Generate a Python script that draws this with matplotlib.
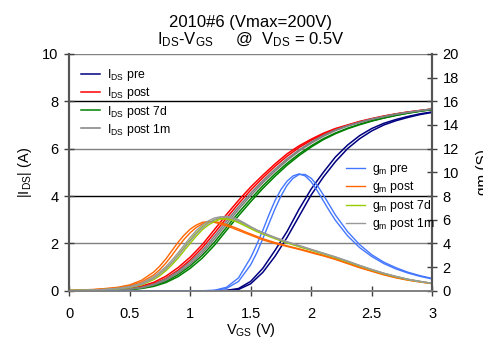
import numpy as np
import matplotlib
matplotlib.use('Agg')
from matplotlib import pyplot as plt

plt.rcParams['font.family'] = ['Liberation Sans', 'DejaVu Sans']
plt.rcParams['mathtext.fontset'] = 'custom'
plt.rcParams['mathtext.rm'] = 'Liberation Sans'
plt.rcParams['mathtext.it'] = 'Liberation Sans:italic'

# gate voltage grid (V) for the IDS sweeps
vgs = [0.0, 0.1, 0.2, 0.3, 0.4, 0.5, 0.6, 0.7, 0.8, 0.9, 1.0,
       1.1, 1.2, 1.3, 1.4, 1.5, 1.6, 1.7, 1.8, 1.9, 2.0,
       2.1, 2.2, 2.3, 2.4, 2.5, 2.6, 2.7, 2.8, 2.9, 3.0]
# finer grid around the gm peaks
vgs_gm_pre = [0.0, 1.0, 1.1, 1.2, 1.3, 1.4, 1.5, 1.55, 1.6, 1.65, 1.7, 1.75, 1.8,
              1.85, 1.9, 1.95, 2.0, 2.05, 2.1, 2.15, 2.2, 2.3, 2.4, 2.5, 2.6, 2.7,
              2.8, 2.9, 3.0]
vgs_gm_post = [0.0, 0.1, 0.2, 0.3, 0.4, 0.5, 0.6, 0.7,
               0.75, 0.8, 0.85, 0.9, 0.95, 1.0, 1.05, 1.1, 1.15, 1.2, 1.25, 1.3,
               1.35, 1.4, 1.45, 1.5, 1.55, 1.6,
               1.7, 1.8, 1.9, 2.0, 2.1, 2.2, 2.3, 2.4, 2.5, 2.6, 2.7, 2.8, 2.9, 3.0]

# |IDS| (A), two sweeps per condition
ids_pre_a = [0] * 13 + [0.02, 0.1, 0.4, 0.95, 1.7, 2.5, 3.45, 4.3, 5.0, 5.65,
                        6.15, 6.55, 6.85, 7.07, 7.23, 7.36, 7.47, 7.55]
ids_pre_b = [0] * 13 + [0.01, 0.06, 0.3, 0.78, 1.45, 2.25, 3.15, 4.05, 4.8, 5.45,
                        6.0, 6.42, 6.75, 7.0, 7.18, 7.32, 7.44, 7.53]
ids_post_a = [0, 0, 0.01, 0.02, 0.05, 0.1, 0.2, 0.36, 0.62, 0.98, 1.42, 1.95, 2.58,
              3.22, 3.82, 4.38, 4.88, 5.35, 5.78, 6.12, 6.4, 6.65, 6.85, 7.0, 7.15,
              7.27, 7.38, 7.47, 7.55, 7.61, 7.67]
ids_post_b = [0, 0, 0.01, 0.02, 0.04, 0.08, 0.16, 0.3, 0.53, 0.87, 1.3, 1.82, 2.43,
              3.07, 3.68, 4.25, 4.77, 5.25, 5.68, 6.05, 6.35, 6.6, 6.81, 6.98, 7.13,
              7.25, 7.36, 7.46, 7.54, 7.61, 7.67]
ids_7d_a = [0, 0, 0, 0.01, 0.03, 0.06, 0.12, 0.22, 0.4, 0.68, 1.05, 1.5, 2.05, 2.68,
            3.3, 3.88, 4.43, 4.93, 5.38, 5.78, 6.12, 6.42, 6.66, 6.86, 7.03, 7.18,
            7.3, 7.41, 7.5, 7.58, 7.65]
ids_7d_b = [0, 0, 0, 0.01, 0.02, 0.05, 0.1, 0.19, 0.35, 0.6, 0.95, 1.38, 1.92, 2.55,
            3.17, 3.76, 4.32, 4.83, 5.3, 5.71, 6.07, 6.38, 6.63, 6.84, 7.01, 7.16,
            7.29, 7.4, 7.5, 7.58, 7.65]
ids_1m_a = [0, 0, 0.01, 0.02, 0.04, 0.08, 0.15, 0.28, 0.5, 0.82, 1.22, 1.7, 2.3, 2.94,
            3.55, 4.12, 4.65, 5.13, 5.57, 5.95, 6.28, 6.56, 6.79, 6.97, 7.12, 7.25,
            7.36, 7.46, 7.54, 7.61, 7.68]
ids_1m_b = [0, 0, 0.01, 0.02, 0.03, 0.07, 0.13, 0.25, 0.45, 0.75, 1.13, 1.6, 2.18, 2.82,
            3.44, 4.02, 4.56, 5.05, 5.5, 5.9, 6.23, 6.52, 6.76, 6.95, 7.1, 7.24,
            7.35, 7.45, 7.53, 7.6, 7.67]

# gm (S), two sweeps per condition
gm_pre_a = [0, 0, 0.01, 0.05, 0.3, 1.1, 2.8, 3.9, 5.1, 6.4, 7.6, 8.55, 9.25, 9.7,
            9.87, 9.7, 9.2, 8.45, 7.6, 6.75, 5.95, 4.65, 3.65, 2.9, 2.3, 1.85, 1.5,
            1.22, 1.0]
gm_pre_b = [0, 0, 0, 0.03, 0.2, 0.8, 2.2, 3.2, 4.4, 5.65, 6.9, 8.0, 8.9, 9.5,
            9.82, 9.82, 9.5, 8.9, 8.1, 7.25, 6.4, 5.0, 3.9, 3.05, 2.42, 1.95, 1.57,
            1.28, 1.05]
gm_post_a = [0.05, 0.08, 0.12, 0.2, 0.3, 0.5, 0.9, 1.6,
             2.1, 2.7, 3.4, 4.1, 4.7, 5.2, 5.55, 5.78, 5.85, 5.78, 5.65, 5.48,
             5.3, 5.1, 4.9, 4.7, 4.5, 4.3,
             4.0, 3.75, 3.5, 3.22, 2.95, 2.65, 2.3, 1.95, 1.65, 1.35, 1.1, 0.9, 0.75, 0.6]
gm_post_b = [0.04, 0.06, 0.1, 0.16, 0.25, 0.42, 0.75, 1.35,
             1.8, 2.35, 3.0, 3.7, 4.35, 4.9, 5.35, 5.65, 5.82, 5.85, 5.75, 5.6,
             5.42, 5.22, 5.0, 4.8, 4.6, 4.4,
             4.08, 3.8, 3.55, 3.28, 3.0, 2.7, 2.35, 2.0, 1.68, 1.38, 1.12, 0.92, 0.76, 0.62]
gm_7d_a = [0.03, 0.05, 0.08, 0.12, 0.2, 0.33, 0.6, 1.1,
           1.45, 1.9, 2.4, 3.0, 3.65, 4.3, 4.9, 5.4, 5.75, 6.0, 6.1, 6.08,
           5.95, 5.75, 5.5, 5.25, 5.0, 4.8,
           4.4, 4.05, 3.72, 3.42, 3.12, 2.8, 2.45, 2.1, 1.76, 1.45, 1.18, 0.95, 0.78, 0.62]
gm_7d_b = [0.03, 0.04, 0.07, 0.1, 0.17, 0.28, 0.5, 0.95,
           1.28, 1.7, 2.2, 2.75, 3.38, 4.0, 4.6, 5.15, 5.55, 5.85, 6.05, 6.1,
           6.02, 5.85, 5.62, 5.35, 5.1, 4.88,
           4.47, 4.1, 3.77, 3.46, 3.15, 2.83, 2.48, 2.12, 1.78, 1.47, 1.2, 0.97, 0.79, 0.63]
gm_1m_a = [0.03, 0.05, 0.08, 0.13, 0.22, 0.36, 0.65, 1.2,
           1.6, 2.05, 2.6, 3.2, 3.85, 4.5, 5.08, 5.55, 5.9, 6.15, 6.25, 6.22,
           6.08, 5.9, 5.65, 5.38, 5.13, 4.9,
           4.48, 4.12, 3.8, 3.48, 3.16, 2.85, 2.5, 2.13, 1.79, 1.48, 1.21, 0.97, 0.79, 0.63]
gm_1m_b = [0.03, 0.04, 0.07, 0.11, 0.18, 0.3, 0.55, 1.05,
           1.42, 1.85, 2.38, 2.95, 3.58, 4.2, 4.8, 5.3, 5.7, 6.0, 6.2, 6.3,
           6.2, 6.0, 5.72, 5.42, 5.15, 4.92,
           4.52, 4.15, 3.83, 3.5, 3.18, 2.87, 2.52, 2.15, 1.81, 1.49, 1.22, 0.98, 0.8, 0.64]

ids_labels = ['$\\mathrm{I_{DS}}$ pre', '$\\mathrm{I_{DS}}$ post',
              '$\\mathrm{I_{DS}}$ post 7d', '$\\mathrm{I_{DS}}$ post 1m']
gm_labels = ['$\\mathrm{g_{m}}$ pre', '$\\mathrm{g_{m}}$ post',
             '$\\mathrm{g_{m}}$ post 7d', '$\\mathrm{g_{m}}$ post 1m']
ids_colors = ['#000080', '#ff0000', '#008000', '#808080']
gm_colors = ['#4477ff', '#ff6600', '#99cc00', '#999999']

fig = plt.figure(figsize=(4.83, 3.43), dpi=100)
ax = fig.add_axes([0.143, 0.152, 0.752, 0.691])
ax2 = ax.twinx()

# horizontal grid lines
for yv, c in [(2, '#808080'), (6, '#808080'), (10, '#808080'), (4, 'black'), (8, 'black')]:
    ax.axhline(yv, color=c, lw=1.0, zorder=0)

ids_sets = [(ids_pre_a, ids_pre_b), (ids_post_a, ids_post_b),
            (ids_7d_a, ids_7d_b), (ids_1m_a, ids_1m_b)]
for (a, b), c, lab in zip(ids_sets, ids_colors, ids_labels):
    ax.plot(vgs, a, color=c, lw=1.1, label=lab)
    ax.plot(vgs, b, color=c, lw=1.1)

gm_sets = [(vgs_gm_pre, gm_pre_a, gm_pre_b), (vgs_gm_post, gm_post_a, gm_post_b),
           (vgs_gm_post, gm_7d_a, gm_7d_b), (vgs_gm_post, gm_1m_a, gm_1m_b)]
for (xv, a, b), c, lab in zip(gm_sets, gm_colors, gm_labels):
    ax2.plot(xv, a, color=c, lw=1.0, label=lab)
    ax2.plot(xv, b, color=c, lw=1.0)

ax.set_xlim(0, 3)
ax.set_ylim(0, 10)
ax2.set_ylim(0, 20)
ax.set_xticks([0, 0.5, 1, 1.5, 2, 2.5, 3])
ax.set_xticklabels(['0', '0.5', '1', '1.5', '2', '2.5', '3'])
ax.set_yticks([0, 2, 4, 6, 8, 10])
ax2.set_yticks(range(0, 21, 2))

for a_ in (ax, ax2):
    a_.tick_params(labelsize=10.5, direction='inout', length=7, width=1.0,
                   color='#404040', pad=4)
    a_.spines['top'].set_visible(False)
    a_.spines['left'].set_color('#555555')
    a_.spines['right'].set_color('#555555')
    a_.spines['bottom'].set_color('#808080')
    a_.spines['left'].set_linewidth(1.5)
    a_.spines['right'].set_linewidth(1.5)
    a_.spines['bottom'].set_linewidth(1.2)
ax.tick_params(axis='x', pad=8)

ax.set_xlabel('$\\mathrm{V_{GS}}$ (V)', fontsize=10.5, labelpad=0)
ax.set_ylabel('$\\mathrm{|I_{DS}|}$ (A)', fontsize=10.5, labelpad=6)
ax2.set_ylabel('gm (S)', fontsize=11, labelpad=12)

ax.set_title('2010#6 (Vmax=200V)\n$\\mathrm{I_{DS}}$-$\\mathrm{V_{GS}}$     @  $\\mathrm{V_{DS}}$ = 0.5V',
             fontsize=12, pad=7, linespacing=1.05)

ax.legend(loc='upper left', bbox_to_anchor=(0.01, 0.98), frameon=False, fontsize=8.8,
          handlelength=1.5, handletextpad=0.6, labelspacing=0.18, borderaxespad=0.3)
ax2.legend(loc='upper left', bbox_to_anchor=(0.74, 0.58), frameon=False, fontsize=8.8,
           handlelength=1.5, handletextpad=0.6, labelspacing=0.2, borderaxespad=0.3)

fig.savefig('out.png', dpi=100)
